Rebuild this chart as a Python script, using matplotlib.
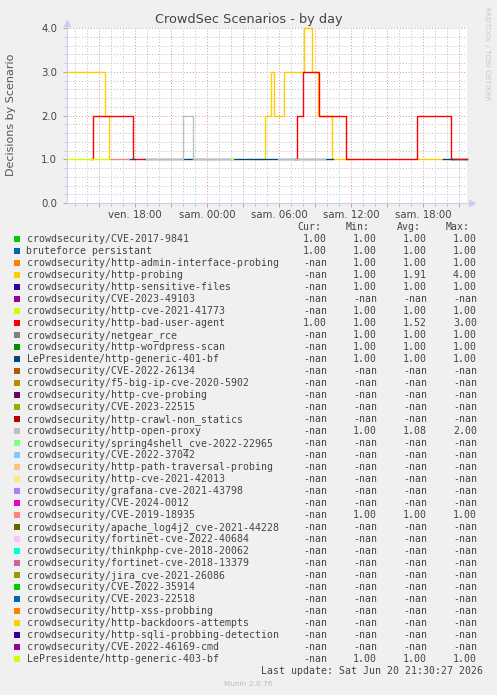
import numpy as np
import matplotlib
matplotlib.use('Agg')
import matplotlib.pyplot as plt
from matplotlib.patches import Rectangle
from matplotlib.ticker import FixedLocator, MultipleLocator, FormatStrFormatter

nan = np.nan

# figure size in pixels
W, H = 497, 695

# munin default palette (cycles)
PALETTE = ['#00CC00', '#0066B3', '#FF8000', '#FFCC00', '#330099', '#990099', '#CCFF00',
           '#FF0000', '#808080', '#008F00', '#00487D', '#B35A00', '#B38F00', '#6B006B',
           '#8FB300', '#B30000', '#BEBEBE', '#80FF80', '#80C9FF', '#FFC080', '#FFE680',
           '#AA80FF', '#EE00CC', '#FF8080', '#666600', '#FFBFFF', '#00FFCC', '#CC6699',
           '#999900']

scenarios = [
    'crowdsecurity/CVE-2017-9841',
    'bruteforce persistant',
    'crowdsecurity/http-admin-interface-probing',
    'crowdsecurity/http-probing',
    'crowdsecurity/http-sensitive-files',
    'crowdsecurity/CVE-2023-49103',
    'crowdsecurity/http-cve-2021-41773',
    'crowdsecurity/http-bad-user-agent',
    'crowdsecurity/netgear_rce',
    'crowdsecurity/http-wordpress-scan',
    'LePresidente/http-generic-401-bf',
    'crowdsecurity/CVE-2022-26134',
    'crowdsecurity/f5-big-ip-cve-2020-5902',
    'crowdsecurity/http-cve-probing',
    'crowdsecurity/CVE-2023-22515',
    'crowdsecurity/http-crawl-non_statics',
    'crowdsecurity/http-open-proxy',
    'crowdsecurity/spring4shell_cve-2022-22965',
    'crowdsecurity/CVE-2022-37042',
    'crowdsecurity/http-path-traversal-probing',
    'crowdsecurity/http-cve-2021-42013',
    'crowdsecurity/grafana-cve-2021-43798',
    'crowdsecurity/CVE-2024-0012',
    'crowdsecurity/CVE-2019-18935',
    'crowdsecurity/apache_log4j2_cve-2021-44228',
    'crowdsecurity/fortinet-cve-2022-40684',
    'crowdsecurity/thinkphp-cve-2018-20062',
    'crowdsecurity/fortinet-cve-2018-13379',
    'crowdsecurity/jira_cve-2021-26086',
    'crowdsecurity/CVE-2022-35914',
    'crowdsecurity/CVE-2023-22518',
    'crowdsecurity/http-xss-probbing',
    'crowdsecurity/http-backdoors-attempts',
    'crowdsecurity/http-sqli-probbing-detection',
    'crowdsecurity/CVE-2022-46169-cmd',
    'LePresidente/http-generic-403-bf',
]

# legend stats
cur_vals = [1, 1, nan, nan, nan, nan, nan, 1] + [nan] * 28
min_vals = [1, 1, 1, 1, 1, nan, 1, 1, 1, 1, 1, nan, nan, nan, nan, nan, 1, nan,
            nan, nan, nan, nan, nan, 1, nan, nan, nan, nan, nan, nan, nan, nan,
            nan, nan, nan, 1]
avg_vals = [1, 1, 1, 1.91, 1, nan, 1, 1.52, 1, 1, 1, nan, nan, nan, nan, nan, 1.08, nan,
            nan, nan, nan, nan, nan, 1, nan, nan, nan, nan, nan, nan, nan, nan,
            nan, nan, nan, 1]
max_vals = [1, 1, 1, 4, 1, nan, 1, 3, 1, 1, 1, nan, nan, nan, nan, nan, 2, nan,
            nan, nan, nan, nan, nan, 1, nan, nan, nan, nan, nan, nan, nan, nan,
            nan, nan, nan, 1]

# time series: hours since Fri 00:00, step values (nan = no data)
cve2017_t = [44.42, 45.67]
cve2017_v = [1, 1]
brute_t = [44.42, 45.67]
brute_v = [1, 1]
probing_t = [12.33, 15.5, 15.83, 16.0, 27.5, 28.83, 29.33, 29.58, 30.42, 32.08, 32.75,
             33.25, 34.42, 36.33, 41.5, 43.67]
probing_v = [3, 2, 1, nan, 1, 2, 3, 2, 3, 4, 3, 2, 1, nan, 1, nan]
bad_agent_t = [14.33, 14.5, 17.83, 18.83, 31.33, 31.5, 32.0, 33.33, 35.58, 41.5, 44.33, 45.67]
bad_agent_v = [1, 2, 1, nan, 1, 2, 3, 2, 1, 2, 1, 1]
bf401_t = [17.5, 18.0, 18.83, 34.5, 43.67, 44.42]
bf401_v = [1, nan, 1, nan, 1, nan]
proxy_t = [18.92, 22.0, 22.83, 26.08, 29.92, 33.83]
proxy_v = [1, 2, 1, nan, 1, nan]
cve2019_t = [15.92, 17.5]
cve2019_v = [1, nan]
bf403_t = [12.33, 15.83, 26.0, 26.17]
bf403_v = [1, nan, 1, nan]

series = {
    0: (cve2017_t, cve2017_v),
    1: (brute_t, brute_v),
    3: (probing_t, probing_v),
    7: (bad_agent_t, bad_agent_v),
    10: (bf401_t, bf401_v),
    16: (proxy_t, proxy_v),
    23: (cve2019_t, cve2019_v),
    35: (bf403_t, bf403_v),
}

# x axis
X_START, X_END = 12.0 + 1 / 3, 45.0 + 2 / 3
x_major = [15, 18, 21, 24, 27, 30, 33, 36, 39, 42, 45]
x_labels = ['', 'ven. 18:00', '', 'sam. 00:00', '', 'sam. 06:00', '', 'sam. 12:00', '',
            'sam. 18:00', '']

# colours
BG = '#F0F0F0'
TEXT = '#444444'
AXIS_COLOR = '#C8CEF4'
MINOR_GRID = '#BDBDBD'
MAJOR_GRID = '#DC9494'


def fx(px):
    return px / W


def fy(py):
    return 1 - py / H


fig = plt.figure(figsize=(W / 100, H / 100), dpi=100, facecolor=BG)
ax = fig.add_axes([fx(67), fy(203), 400 / W, 175 / H])
ax.set_facecolor('white')

for idx, (t, v) in series.items():
    ax.plot(t, v, drawstyle='steps-post', color=PALETTE[idx % len(PALETTE)],
            linewidth=1.0, zorder=3 + idx * 0.01, clip_on=False)

ax.set_xlim(X_START, X_END)
ax.set_ylim(0, 4)

# grid
ax.xaxis.set_major_locator(FixedLocator(x_major))
ax.xaxis.set_minor_locator(MultipleLocator(1))
ax.yaxis.set_major_locator(MultipleLocator(1))
ax.yaxis.set_minor_locator(MultipleLocator(0.2))
ax.yaxis.set_major_formatter(FormatStrFormatter('%.1f'))
ax.grid(which='minor', color=MINOR_GRID, linestyle=(0, (1, 2)), linewidth=0.7)
ax.grid(which='major', color=MAJOR_GRID, linestyle=(0, (1, 2)), linewidth=0.7)
ax.set_axisbelow(True)

ax.set_xticklabels(x_labels)
ax.tick_params(which='major', colors=MAJOR_GRID, labelcolor=TEXT, labelsize=7.3,
               length=3, width=0.7, direction='out', pad=2)
ax.tick_params(which='minor', colors=MINOR_GRID, length=2, width=0.6, direction='out')
ax.tick_params(axis='y', pad=4)

for side in ['top', 'right']:
    ax.spines[side].set_visible(False)
for side in ['left', 'bottom']:
    ax.spines[side].set_color(AXIS_COLOR)
    ax.spines[side].set_linewidth(0.8)

# axis arrows
ax.plot([0, 0], [1.0, 1.03], transform=ax.transAxes, color=AXIS_COLOR, lw=0.8, clip_on=False)
ax.plot([0], [1.03], marker='^', ms=4, color=AXIS_COLOR, transform=ax.transAxes, clip_on=False)
ax.plot([1.0, 1.012], [0, 0], transform=ax.transAxes, color=AXIS_COLOR, lw=0.8, clip_on=False)
ax.plot([1.012], [0], marker='>', ms=4, color=AXIS_COLOR, transform=ax.transAxes, clip_on=False)

# titles
fig.text(fx(248.5), fy(19), 'CrowdSec Scenarios - by day', ha='center', va='center',
         fontsize=9.3, color=TEXT)
fig.text(fx(11), fy(115), 'Decisions by Scenario', rotation=90, ha='center', va='center',
         fontsize=8, color='#555555')
fig.text(fx(487.5), fy(53), 'RRDTOOL / TOBI OETIKER', rotation=270, ha='center', va='center',
         fontsize=5.3, color='#C8C8C8')

# legend table
MONO = 'DejaVu Sans Mono'
LEG_SIZE = 7.1
col_right = [327, 377, 427, 477]
headers = ['Cur:', 'Min:', 'Avg:', 'Max:']
for x, h in zip([321, 370, 421, 470], headers):
    fig.text(fx(x), fy(227.3), h, ha='right', va='center', family=MONO,
             fontsize=LEG_SIZE, color=TEXT)


def fmt(v):
    return '-nan' if np.isnan(v) else f'{v:.2f}'


for i, name in enumerate(scenarios):
    y = 239.3 + 12 * i
    color = PALETTE[i % len(PALETTE)]
    fig.add_artist(Rectangle((fx(14), fy(y + 3)), 6 / W, 6 / H, transform=fig.transFigure,
                             facecolor=color, edgecolor='none'))
    fig.text(fx(26.5), fy(y), name, ha='left', va='center', family=MONO,
             fontsize=LEG_SIZE, color=TEXT)
    for x, vals in zip(col_right, [cur_vals, min_vals, avg_vals, max_vals]):
        fig.text(fx(x), fy(y), fmt(vals[i]), ha='right', va='center', family=MONO,
                 fontsize=LEG_SIZE, color=TEXT)

fig.text(fx(483), fy(671.5), 'Last update: Sat Jun 20 21:30:27 2026', ha='right',
         va='center', family=MONO, fontsize=LEG_SIZE, color=TEXT)
fig.text(fx(248), fy(684), 'Munin 2.0.76', ha='center', va='center', fontsize=5.3,
         color='#BBBBBB')

fig.savefig('out.png', dpi=100, facecolor=BG)
